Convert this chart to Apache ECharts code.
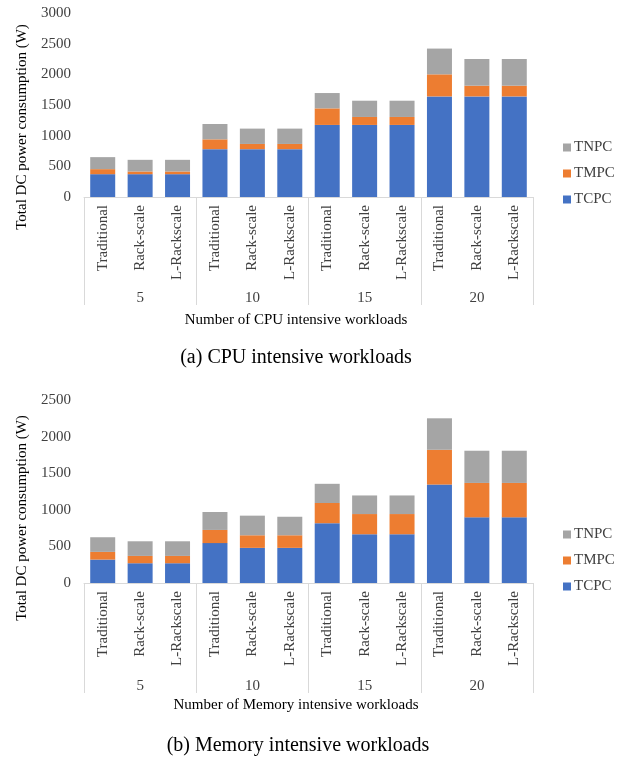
<!DOCTYPE html>
<html>
<head>
<meta charset="utf-8">
<script src="https://cdn.jsdelivr.net/npm/echarts@6/dist/echarts.min.js"></script>
<style>
  html, body { margin: 0; padding: 0; background: #fff; }
  #chart { width: 626px; height: 761px; }
</style>
</head>
<body>
<div id="chart"></div>
<script>
/* ---------- data ---------- */
const categories = [
  'Traditional', 'Rack-scale', 'L-Rackscale',
  'Traditional', 'Rack-scale', 'L-Rackscale',
  'Traditional', 'Rack-scale', 'L-Rackscale',
  'Traditional', 'Rack-scale', 'L-Rackscale',
];
const groups = ['5', '10', '15', '20'];

// (a) CPU intensive
const cpuTCPC = [372, 372, 372, 780, 780, 780, 1175, 1175, 1175, 1640, 1640, 1640];
const cpuTMPC = [82, 44, 44, 160, 85, 85, 270, 130, 130, 360, 175, 175];
const cpuTNPC = [196, 190, 190, 250, 250, 250, 250, 265, 265, 420, 435, 435];

// (b) Memory intensive
const memTCPC = [320, 270, 270, 545, 480, 480, 817, 666, 666, 1345, 897, 897];
const memTMPC = [105, 100, 100, 180, 172, 172, 276, 276, 276, 475, 470, 470];
const memTNPC = [200, 200, 200, 245, 268, 253, 262, 254, 254, 430, 440, 440];

const seriesNames = ['TCPC', 'TMPC', 'TNPC'];
const colors = { TCPC: '#4472C4', TMPC: '#ED7D31', TNPC: '#A5A5A5' };

const FONT = '"Liberation Serif", "Times New Roman", serif';
const TEXT = '#404040';
const LINE = '#d9d9d9';

/* ---------- axes helpers ---------- */
function catAxis(gridIndex) {
  return {
    type: 'category',
    gridIndex,
    data: categories,
    axisLine: { lineStyle: { color: LINE } },
    axisTick: { show: false },
    axisLabel: {
      interval: 0, rotate: 90, margin: 8,
      fontFamily: FONT, fontSize: 15, color: TEXT,
    },
  };
}

function groupAxis(gridIndex, len, margin) {
  return {
    type: 'category',
    gridIndex,
    data: groups,
    position: 'bottom',
    axisLine: { show: false },
    axisTick: { show: true, interval: 0, length: len, lineStyle: { color: LINE } },
    axisLabel: { margin, fontFamily: FONT, fontSize: 15, color: TEXT },
  };
}

function valAxis(gridIndex, max) {
  return {
    type: 'value',
    gridIndex,
    min: 0, max, interval: 500,
    axisLine: { show: false },
    axisTick: { show: false },
    splitLine: { show: false },
    axisLabel: {
      margin: 13, fontFamily: FONT, fontSize: 15, color: TEXT,
      formatter: (v) => String(v),
    },
  };
}

function stackSeries(idx, data) {
  return seriesNames.map((name) => ({
    name,
    type: 'bar',
    stack: 's' + idx,
    xAxisIndex: idx * 2,
    yAxisIndex: idx,
    barWidth: 25,
    itemStyle: { color: colors[name] },
    data: data[name],
  }));
}

function legend(top) {
  return {
    data: ['TNPC', 'TMPC', 'TCPC'],
    orient: 'vertical',
    left: 558, top,
    icon: 'rect', itemWidth: 8, itemHeight: 8, itemGap: 11,
    textStyle: { fontFamily: FONT, fontSize: 15, color: TEXT, padding: [0, 0, 0, -2] },
  };
}

function text(x, y, str, size, rot) {
  return {
    type: 'text', x, y, rotation: rot || 0,
    style: {
      text: str, fill: '#000', font: size + 'px ' + FONT,
      align: 'center', verticalAlign: 'middle',
    },
  };
}

/* ---------- chart ---------- */
const chart = echarts.init(document.getElementById('chart'));
chart.setOption({
  animation: false,
  grid: [
    { left: 84, top: 13, width: 449, height: 184 },
    { left: 84, top: 400, width: 449, height: 183 },
  ],
  xAxis: [
    catAxis(0), groupAxis(0, 108, 94),
    catAxis(1), groupAxis(1, 110, 96),
  ],
  yAxis: [valAxis(0, 3000), valAxis(1, 2500)],
  legend: [legend(135), legend(522)],
  series: [
    ...stackSeries(0, { TCPC: cpuTCPC, TMPC: cpuTMPC, TNPC: cpuTNPC }),
    ...stackSeries(1, { TCPC: memTCPC, TMPC: memTMPC, TNPC: memTNPC }),
  ],
  graphic: [
    text(22, 127, 'Total DC power consumption (W)', 15, Math.PI / 2),
    text(296, 320, 'Number of CPU intensive workloads', 15),
    text(296, 358, '(a) CPU intensive workloads', 20),
    text(22, 518, 'Total DC power consumption (W)', 15, Math.PI / 2),
    text(296, 705, 'Number of Memory intensive workloads', 15),
    text(298, 746, '(b) Memory intensive workloads', 20),
  ],
});
</script>
</body>
</html>
